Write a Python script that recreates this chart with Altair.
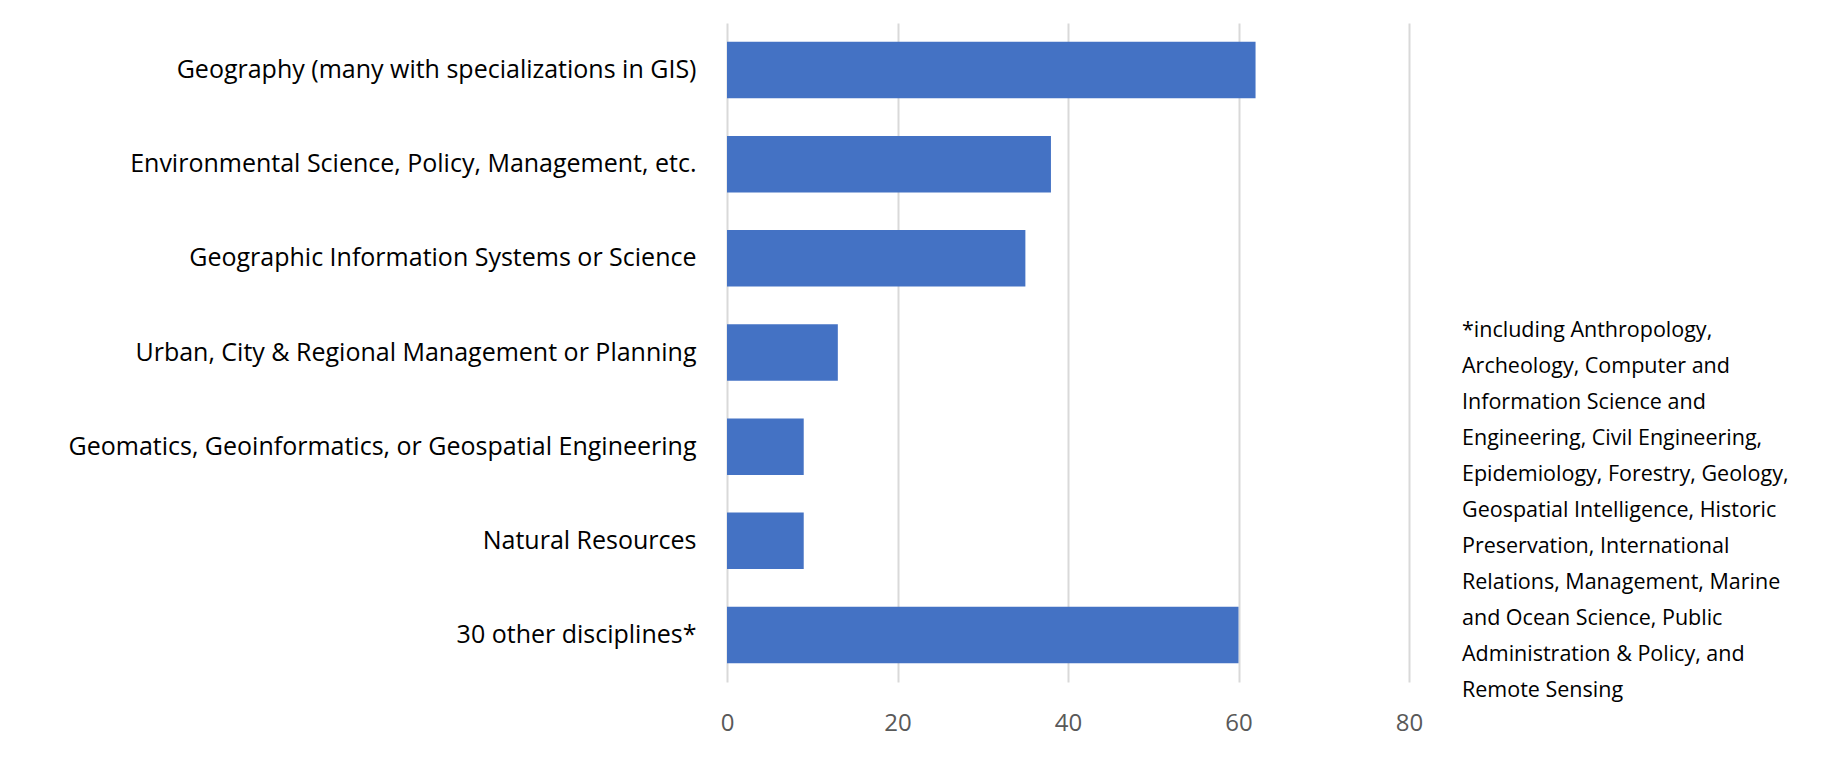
import altair as alt
import pandas as pd

categories = [
    "Geography (many with specializations in GIS)",
    "Environmental Science, Policy, Management, etc.",
    "Geographic Information Systems or Science",
    "Urban, City & Regional Management or Planning",
    "Geomatics, Geoinformatics, or Geospatial Engineering",
    "Natural Resources",
    "30 other disciplines*",
]
values = [62, 38, 35, 13, 9, 9, 60]
x_ticks = [0, 20, 40, 60, 80]
footnote_lines = [
    "*including Anthropology,",
    "Archeology, Computer and",
    "Information Science and",
    "Engineering, Civil Engineering,",
    "Epidemiology, Forestry, Geology,",
    "Geospatial Intelligence, Historic",
    "Preservation, International",
    "Relations, Management, Marine",
    "and Ocean Science, Public",
    "Administration & Policy, and",
    "Remote Sensing",
]

df = pd.DataFrame({"discipline": categories, "count": values})
note_df = pd.DataFrame({"note": ["\n".join(footnote_lines)]})

FONT = "Open Sans"

bars = alt.Chart(df).mark_bar(color="#4472C4").encode(
    y=alt.Y(
        "discipline:N",
        sort=categories,
        title=None,
        scale=alt.Scale(paddingInner=0.4, paddingOuter=0.2),
        axis=alt.Axis(
            domain=False, ticks=False, labelFontSize=25, labelColor="#000000",
            labelFont=FONT, labelPadding=31, labelLimit=800,
        ),
    ),
    x=alt.X(
        "count:Q",
        title=None,
        scale=alt.Scale(domain=[0, 80]),
        axis=alt.Axis(
            values=x_ticks, domain=False, ticks=False, grid=True,
            gridColor="#D9D9D9", gridWidth=2, labelFontSize=24,
            labelColor="#595959", labelFont=FONT, labelPadding=29,
            labelFlush=False,
        ),
    ),
)

note = alt.Chart(note_df).mark_text(
    align="left", baseline="top", lineBreak="\n", lineHeight=36,
    fontSize=21.5, font=FONT, color="#000000",
).encode(
    text="note:N",
    x=alt.value(735),
    y=alt.value(297),
)

chart = alt.layer(bars, note).properties(
    width=682,
    height=659,
    padding={"left": 719, "top": 15, "right": 400, "bottom": 70},
    autosize=alt.AutoSizeParams(type="none"),
).configure_view(stroke=None)

chart.save("out.html", embed_options={"renderer": "svg", "actions": False})
